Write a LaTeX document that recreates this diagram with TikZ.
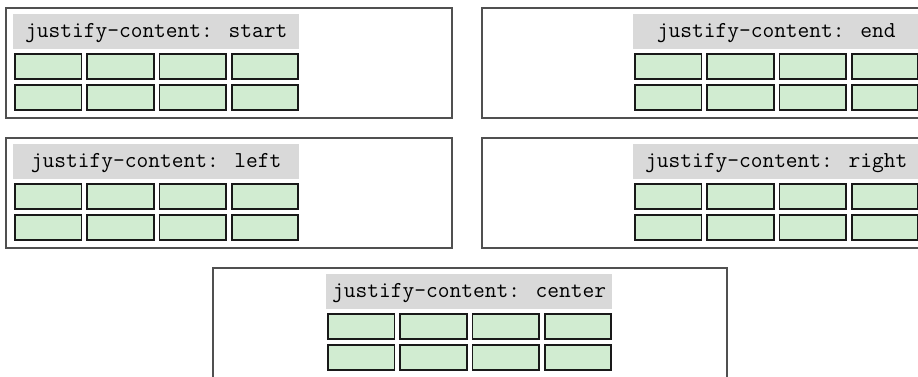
\documentclass[tikz,border=0pt]{standalone}
\usepackage{xcolor}
\usetikzlibrary{positioning}
\definecolor{cellgreen}{RGB}{209,236,209}
\definecolor{taggray}{RGB}{217,217,217}
\definecolor{framegray}{RGB}{80,80,80}

\begin{document}
\begin{tikzpicture}[x=1pt, y=-1pt,
  frame/.style={draw=framegray, line width=1.5pt, fill=white, inner sep=0pt, anchor=north west, minimum height=110pt},
  tag/.style={fill=taggray, inner sep=0pt, anchor=north west, minimum width=286pt, minimum height=35pt, text height=14pt, text depth=2pt, font=\ttfamily\fontsize{22.8}{22.8}\selectfont},
  cell/.style={draw=black!90, line width=1.9pt, fill=cellgreen, inner sep=0pt, anchor=north west, minimum width=66.6pt, minimum height=25.1pt}]
  % Seite
  \useasboundingbox (0,0) rectangle (918,376);
  \clip (0,0) rectangle (918,376);
  % Container: Name / Rahmen x / y / Breite / Inhalt x
  \foreach \kind/\bx/\by/\bw/\cx in {start/5/7/446/13, end/481/7/446/633, left/5/137/446/13, right/481/137/446/633, center/212/267/514/326} {
    \node[frame, minimum width=\bw pt] (\kind) at (\bx,\by) {};
    % Beschriftung
    \node[tag] (\kind-tag) at (\cx,\by+7) {justify-content: \kind};
    % Zellen 2x4
    \foreach \r in {0,1}
      \foreach \c in {0,...,3}
        \node[cell] (\kind-\r\c) at (\cx+\c*72.3+0.95, \by+45.95+\r*31) {};
  }
\end{tikzpicture}
\end{document}
